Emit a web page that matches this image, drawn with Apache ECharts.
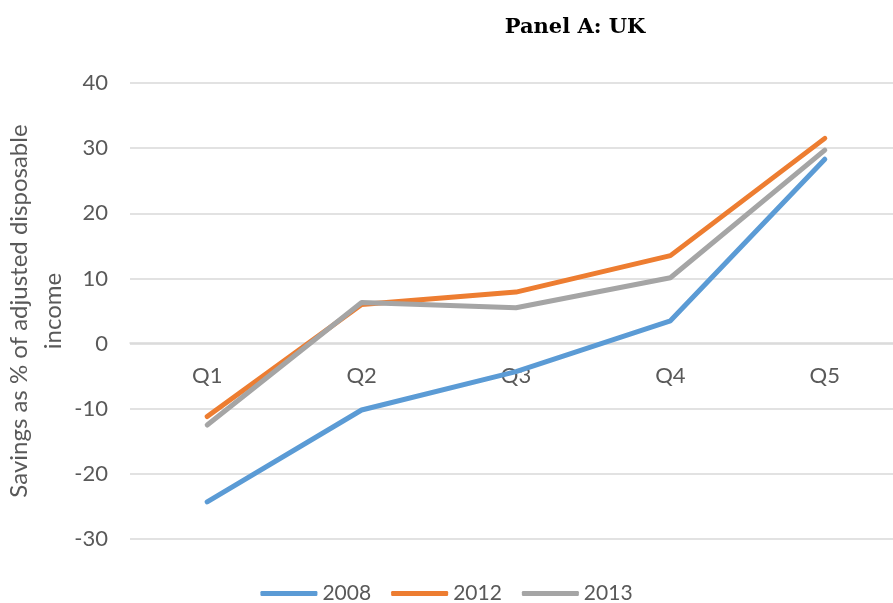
<!DOCTYPE html>
<html>
<head>
<meta charset="utf-8">
<script src="https://cdn.jsdelivr.net/npm/echarts@6/dist/echarts.min.js"></script>
<style>
  html, body { margin: 0; padding: 0; background: #fff; }
  #chart { width: 893px; height: 603px; }
</style>
</head>
<body>
<div id="chart"></div>
<script>
var quintiles = ['Q1', 'Q2', 'Q3', 'Q4', 'Q5'];
var s2008 = [-24.3, -10.2, -4.3, 3.5, 28.3];
var s2012 = [-11.2, 6.0, 7.9, 13.5, 31.5];
var s2013 = [-12.5, 6.3, 5.5, 10.1, 29.7];

var chart = echarts.init(document.getElementById('chart'));
var txt = '#595959';
var font = 'Lato';

function line(name, data, color) {
    return {
        name: name,
        type: 'line',
        data: data,
        symbol: 'none',
        lineStyle: {width: 5, color: color, cap: 'round'},
        itemStyle: {color: color}
    };
}

var option = {
    animation: false,
    title: {
        text: 'Panel A: UK',
        left: 570,
        top: 12,
        textAlign: 'center',
        textStyle: {fontFamily: 'DejaVu Serif', fontWeight: 'bold', fontSize: 21, color: '#000'}
    },
    legend: {
        top: 578,
        left: 'center',
        itemWidth: 57,
        itemHeight: 5,
        itemGap: 20,
        icon: 'roundRect',
        textStyle: {fontFamily: font, fontSize: 21, color: txt},
        data: ['2008', '2012', '2013']
    },
    grid: {left: 130, top: 83, width: 772, height: 456, outerBoundsMode: 'none'},
    xAxis: {
        type: 'category',
        data: quintiles,
        boundaryGap: true,
        offset: -196,
        axisLine: {onZero: false, lineStyle: {color: '#d9d9d9', width: 1.5}},
        axisTick: {show: false},
        axisLabel: {fontFamily: font, fontSize: 22, color: txt, margin: 22}
    },
    yAxis: {
        type: 'value',
        min: -30,
        max: 40,
        interval: 10,
        name: 'Savings as % of adjusted disposable\nincome',
        nameLocation: 'middle',
        nameRotate: 90,
        nameGap: 60,
        nameMoveOverlap: false,
        nameTextStyle: {fontFamily: font, fontSize: 24, color: txt, lineHeight: 34},
        axisLine: {show: false},
        axisTick: {show: false},
        axisLabel: {fontFamily: font, fontSize: 22, color: txt, margin: 22},
        splitLine: {lineStyle: {color: '#d9d9d9', width: 1.5}}
    },
    series: [
        line('2008', s2008, '#5b9bd5'),
        line('2012', s2012, '#ed7d31'),
        line('2013', s2013, '#a5a5a5')
    ]
};

chart.setOption(option);
</script>
</body>
</html>
